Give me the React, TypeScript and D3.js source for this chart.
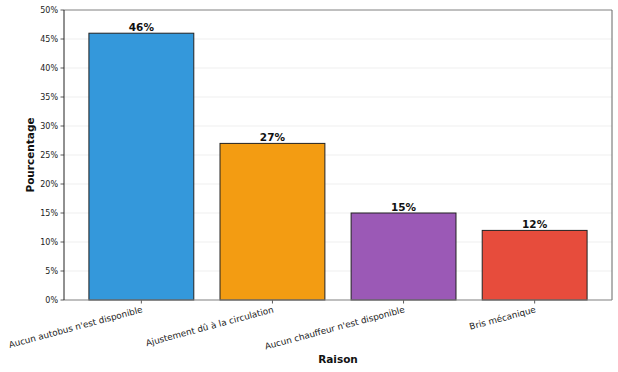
import React from "react";
import * as d3 from "d3";

const categories = [
  "Aucun autobus n'est disponible",
  "Ajustement dû à la circulation",
  "Aucun chauffeur n'est disponible",
  "Bris mécanique",
];
const values = [46, 27, 15, 12];
const colors = ["#3498db", "#f39c12", "#9b59b6", "#e74c3c"];
const yTicks = [0, 5, 10, 15, 20, 25, 30, 35, 40, 45, 50];

export default function App() {
  const W = 618, H = 372;
  const left = 64, right = 612, top = 10, bottom = 300;
  const x = d3.scaleBand<string>().domain(categories).range([left, right]).paddingInner(0.2).paddingOuter(0.19);
  const y = d3.scaleLinear().domain([0, 50]).range([bottom, top]);
  const font = "DejaVu Sans, sans-serif";
  return (
    <svg width={W} height={H} style={{ position: "absolute", left: 0, top: 0 }} fontFamily={font}>
      <rect width={W} height={H} fill="#fff" />
      {yTicks.map((t) => (
        <g key={t}>
          <line x1={left} x2={right} y1={y(t)} y2={y(t)} stroke="#ebebeb" strokeWidth={0.8} />
          <line x1={left - 3.5} x2={left} y1={y(t)} y2={y(t)} stroke="#333" strokeWidth={0.8} />
          <text x={left - 6} y={y(t)} dy="0.35em" textAnchor="end" fontSize={8} fill="#222">{t}%</text>
        </g>
      ))}
      {categories.map((c, i) => (
        <g key={c}>
          <rect x={x(c)} y={y(values[i])} width={x.bandwidth()} height={bottom - y(values[i])} fill={colors[i]} stroke="#222" strokeWidth={1} />
          <text x={x(c)! + x.bandwidth() / 2} y={y(values[i]) - 2} textAnchor="middle" fontSize={10.5} fontWeight="bold" fill="#111">{values[i]}%</text>
          <line x1={x(c)! + x.bandwidth() / 2} x2={x(c)! + x.bandwidth() / 2} y1={bottom} y2={bottom + 3.5} stroke="#333" strokeWidth={0.8} />
          <text transform={`translate(${x(c)! + x.bandwidth() / 2},${bottom + 6}) rotate(-15)`} textAnchor="end" dominantBaseline="hanging" fontSize={8.8} fill="#222">{c}</text>
        </g>
      ))}
      <line x1={left} x2={right} y1={top} y2={top} stroke="#888" strokeWidth={1} />
      <line x1={right} x2={right} y1={top} y2={bottom} stroke="#666" strokeWidth={1} />
      <line x1={left} x2={right} y1={bottom} y2={bottom} stroke="#888" strokeWidth={1.2} />
      <line x1={left} x2={left} y1={top} y2={bottom} stroke="#222" strokeWidth={1} />
      <text x={(left + right) / 2} y={363} textAnchor="middle" fontSize={10.5} fontWeight="bold" fill="#111">Raison</text>
      <text transform={`translate(34,${(top + bottom) / 2}) rotate(-90)`} textAnchor="middle" fontSize={10.5} fontWeight="bold" fill="#111">Pourcentage</text>
    </svg>
  );
}
